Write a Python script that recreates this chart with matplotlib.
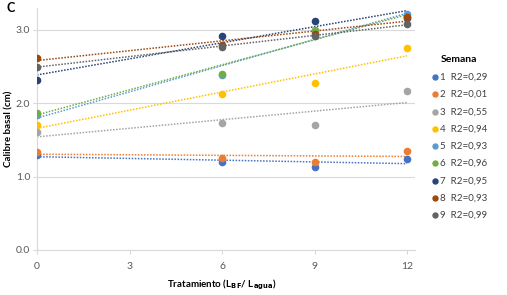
import numpy as np
import matplotlib
matplotlib.use('Agg')
import matplotlib.pyplot as plt

plt.rcParams['font.family'] = ['Lato', 'DejaVu Sans']

tratamiento = [0, 6, 9, 12]
semanas = ['1', '2', '3', '4', '5', '6', '7', '8', '9']
r2_labels = ['0,29', '0,01', '0,55', '0,94', '0,93', '0,96', '0,95', '0,93', '0,99']
colors = ['#4472C4', '#ED7D31', '#A5A5A5', '#FFC000', '#5B9BD5',
          '#70AD47', '#264478', '#9E480E', '#636363']

# calibre basal (cm) per semana at tratamiento 0, 6, 9, 12
calibre = [
    [1.30, 1.20, 1.13, 1.24],
    [1.34, 1.26, 1.20, 1.35],
    [1.61, 1.73, 1.71, 2.17],
    [1.70, 2.13, 2.28, 2.75],
    [1.84, 2.38, 2.97, 3.22],
    [1.87, 2.40, 3.00, 3.17],
    [2.32, 2.92, 3.12, 3.16],
    [2.62, 2.80, 2.94, 3.18],
    [2.50, 2.77, 2.92, 3.08],
]

fig = plt.figure(figsize=(5.07, 2.95), dpi=100)
ax = fig.add_axes([0.073, 0.153, 0.745, 0.82])

x = np.array(tratamiento)
xfit = np.array([0, 12])
for i, vals in enumerate(calibre):
    y = np.array(vals)
    m, b = np.polyfit(x, y, 1)
    ax.plot(xfit, m * xfit + b, linestyle=(0, (1, 1)), color=colors[i], lw=1.1, zorder=2)
    ax.scatter(x, y, s=20, color=colors[i], zorder=3,
               label=f'{semanas[i]}  R2={r2_labels[i]}')

ax.set_xlim(0, 12.25)
ax.set_ylim(0, 3.3)
ax.set_xticks([0, 3, 6, 9, 12])
ax.set_yticks([0, 1, 2, 3])
ax.set_yticklabels(['0.0', '1.0', '2.0', '3.0'])
ax.grid(axis='y', color='#D9D9D9', lw=0.8)
ax.set_axisbelow(True)
for s in ['top', 'right']:
    ax.spines[s].set_visible(False)
ax.spines['left'].set_color('#D9D9D9')
ax.spines['bottom'].set_color('#D9D9D9')
ax.tick_params(axis='both', labelsize=7.5, colors='#595959', length=3, color='#D9D9D9')
ax.tick_params(axis='y', pad=2)
ax.tick_params(axis='x', pad=6)

ax.set_xlabel(r'Tratamiento (L$_{\mathbf{BF}}$/ L$_{\mathbf{agua}}$)', fontsize=7,
              fontweight='bold')
ax.xaxis.set_label_coords(0.49, -0.115)
ax.set_ylabel('Calibre basal (cm)', fontsize=7, fontweight='bold')
ax.yaxis.set_label_coords(-0.062, 0.5)

fig.text(0.012, 0.96, 'C', fontsize=9, fontweight='bold')

leg = ax.legend(title='Semana', loc='upper left', bbox_to_anchor=(1.02, 0.84),
                frameon=False, fontsize=7, title_fontsize=7.5, handletextpad=0.1,
                markerscale=0.8, labelspacing=0.85, handlelength=0.8)
leg.get_title().set_fontweight('bold')
for t in leg.get_texts():
    t.set_color('#404040')

fig.savefig('out.png', dpi=100)
